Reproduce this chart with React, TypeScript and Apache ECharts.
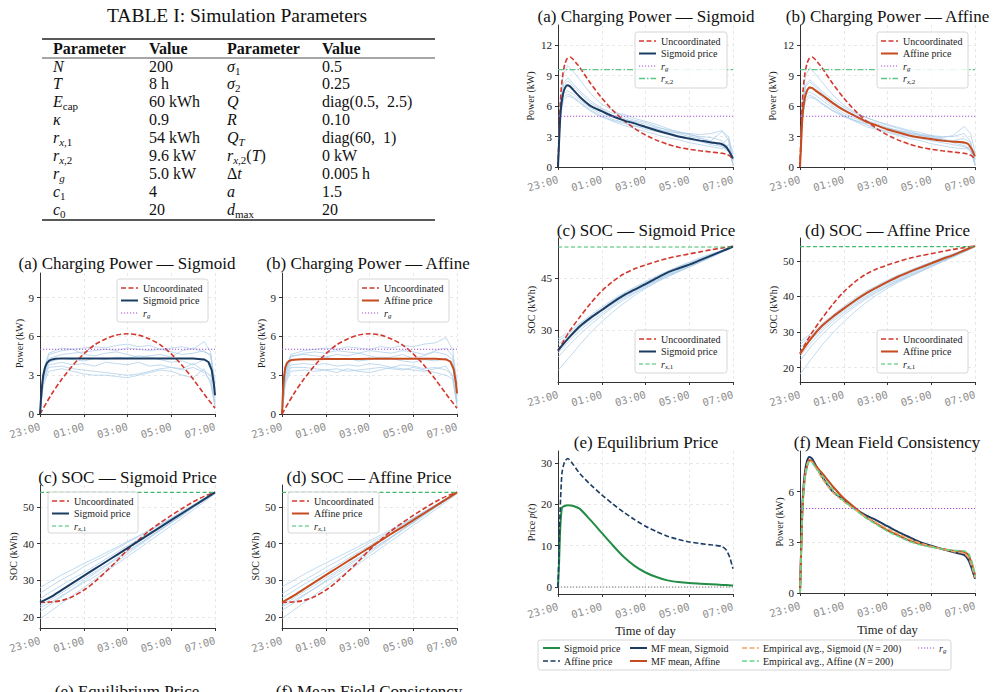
import React, { useEffect, useRef } from 'react';
import * as echarts from 'echarts';

const SERIF = '"Liberation Serif", "Times New Roman", serif';
const MONO = '"DejaVu Sans Mono", monospace';

// ---------------- DATA ----------------
const X_TICKS = ['23:00', '01:00', '03:00', '05:00', '07:00'];

// time grids (hours after 23:00)
const T_P = [0, 0.05, 0.1, 0.15, 0.23, 0.32, 0.42, 0.55, 0.7, 1, 1.5, 2, 2.5, 3, 3.5, 4, 4.5, 5, 5.5, 6, 6.5, 7, 7.5, 7.7, 7.85, 7.95, 8];
const T_H = [0, 0.5, 1, 1.5, 2, 2.5, 3, 3.5, 4, 4.5, 5, 5.5, 6, 6.5, 7, 7.5, 8];
const T_LS = [0, 0.15, 0.4, 1, 1.5, 2, 2.5, 3, 3.5, 4, 4.5, 5, 5.5, 6, 6.5, 7, 7.5, 7.8, 8];
const T_RS = [0, 0.1, 0.25, 0.45, 0.7, 1, 1.5, 2, 2.5, 3, 3.5, 4, 4.5, 5, 5.5, 6, 6.5, 7, 7.5, 7.8, 8];
const T_PRICE = [0, 0.05, 0.1, 0.18, 0.3, 0.45, 0.7, 1, 1.5, 2, 2.5, 3, 3.5, 4, 4.5, 5, 5.5, 6, 6.5, 7, 7.5, 7.7, 7.85, 8];
const T_EDGE = [0, 8];

// reference levels
const R_G = [5.0, 5.0];
const R_X1 = [54, 54];
const R_X2 = [9.6, 9.6];
const ZERO = [0, 0];

// left figure (older version)
const L_UNC_P = [0, 1.45, 2.7, 3.75, 4.65, 5.35, 5.8, 6.1, 6.2, 6.1, 5.8, 5.35, 4.65, 3.75, 2.7, 1.55, 0.45];
const L_SIG_P = [0, 1.3, 2.3, 3.0, 3.6, 3.95, 4.12, 4.22, 4.27, 4.3, 4.3, 4.3, 4.3, 4.3, 4.3, 4.3, 4.3, 4.3, 4.3, 4.3, 4.3, 4.29, 4.22, 4.02, 3.4, 2.3, 1.45];
const L_AFF_P = [0, 1.9, 3.0, 3.6, 3.95, 4.1, 4.17, 4.2, 4.22, 4.23, 4.24, 4.25, 4.25, 4.26, 4.26, 4.27, 4.27, 4.27, 4.27, 4.28, 4.28, 4.28, 4.22, 4.05, 3.45, 2.4, 1.6];
const L_UNC_SOC = [24, 24.1, 24.5, 25.6, 27.3, 29.6, 32.3, 35.2, 38.3, 41.0, 43.5, 45.7, 47.7, 49.6, 51.4, 52.9, 54.0];
const L_SIG_SOC = [24, 25.5, 27.4, 29.3, 31.2, 33.1, 35.0, 36.9, 38.8, 40.7, 42.6, 44.5, 46.4, 48.3, 50.2, 52.1, 54.0];
const L_AFF_SOC = [24, 25.7, 27.6, 29.5, 31.4, 33.3, 35.2, 37.1, 38.9, 40.8, 42.7, 44.5, 46.4, 48.3, 50.2, 52.1, 54.0];

const LA_TRACES = [
  [0, 3.2, 4.6, 4.9, 5.0, 5.1, 5.2, 5.1, 5.3, 5.4, 5.2, 5.3, 5.0, 5.1, 5.2, 5.0, 5.6, 4.8, 2.0],
  [0, 3.0, 4.3, 4.6, 4.7, 4.8, 4.9, 5.0, 4.9, 5.1, 5.0, 4.9, 5.0, 4.8, 4.6, 4.7, 4.9, 4.5, 1.5],
  [0, 2.8, 4.0, 4.3, 4.2, 4.1, 4.3, 4.2, 4.4, 4.3, 4.5, 4.4, 4.2, 4.0, 4.1, 3.8, 4.2, 3.9, 1.2],
  [0, 2.6, 3.8, 4.0, 3.8, 3.9, 3.7, 4.0, 3.9, 3.8, 4.0, 3.7, 3.8, 3.6, 3.5, 3.9, 3.3, 3.0, 0.8],
  [0, 2.5, 3.6, 3.7, 3.5, 3.4, 3.3, 3.2, 3.1, 3.0, 3.1, 3.3, 3.5, 3.6, 3.4, 3.6, 3.2, 2.6, 0.5],
  [0, 2.2, 3.3, 3.5, 3.3, 3.1, 3.0, 3.0, 2.9, 2.8, 3.0, 3.2, 3.4, 3.3, 3.0, 2.8, 3.5, 2.3, 0.7],
  [0, 3.3, 4.7, 5.1, 5.0, 4.6, 4.5, 4.7, 4.8, 4.6, 4.4, 4.5, 4.6, 4.4, 4.9, 5.1, 4.8, 4.6, 2.5],
];
const LB_TRACES = [
  [0, 3.3, 4.6, 4.9, 5.0, 5.1, 5.0, 5.2, 5.1, 5.0, 5.2, 5.1, 5.3, 5.2, 5.4, 5.5, 5.9, 5.0, 2.2],
  [0, 3.0, 4.4, 4.7, 4.8, 4.7, 4.9, 4.8, 4.7, 4.9, 4.8, 4.7, 4.9, 4.8, 4.6, 4.8, 4.6, 4.2, 1.6],
  [0, 2.9, 4.1, 4.3, 4.2, 4.4, 4.2, 4.3, 4.1, 4.2, 4.4, 4.3, 4.1, 4.0, 4.2, 4.1, 4.3, 3.8, 1.2],
  [0, 2.7, 3.8, 3.9, 3.8, 3.9, 3.7, 3.8, 3.7, 3.9, 3.8, 3.6, 3.8, 3.7, 3.5, 3.6, 3.4, 3.0, 0.9],
  [0, 2.5, 3.6, 3.6, 3.5, 3.4, 3.5, 3.3, 3.4, 3.5, 3.6, 3.5, 3.4, 3.6, 3.4, 3.2, 3.0, 2.7, 0.6],
  [0, 2.3, 3.3, 3.4, 3.3, 3.4, 3.2, 3.5, 3.3, 3.2, 3.4, 3.6, 3.5, 3.4, 3.3, 3.5, 3.7, 2.9, 0.8],
  [0, 3.2, 4.5, 4.6, 4.5, 4.4, 4.6, 4.5, 4.7, 4.5, 4.3, 4.4, 4.6, 4.3, 4.5, 4.9, 5.1, 4.5, 2.4],
];
const LC_TRACES = [
  [28, 29.8, 31.5, 33.0, 34.6, 36.0, 37.5, 39.0, 40.6, 42.1, 43.8, 45.2, 46.9, 48.6, 50.4, 52.2, 54],
  [26.5, 28.4, 30.2, 31.8, 33.7, 35.3, 36.8, 38.6, 40.3, 41.9, 43.5, 45.3, 47.0, 48.9, 50.6, 52.4, 54],
  [25, 26.9, 28.7, 30.5, 32.1, 33.9, 35.8, 37.6, 39.4, 41.2, 43.0, 44.8, 46.6, 48.5, 50.3, 52.1, 54],
  [23, 24.8, 26.6, 28.5, 30.4, 32.3, 34.2, 36.1, 38.0, 39.9, 41.8, 43.9, 45.8, 47.9, 49.9, 51.9, 54],
  [21.5, 23.5, 25.6, 27.7, 29.8, 31.9, 33.8, 35.8, 37.8, 39.7, 41.8, 43.8, 45.8, 47.7, 49.8, 51.8, 53.8],
  [19.5, 21.6, 23.8, 25.9, 28.0, 30.2, 32.3, 34.4, 36.5, 38.6, 40.7, 42.8, 44.9, 47.0, 49.2, 51.4, 53.6],
  [22.5, 24.0, 25.9, 27.5, 29.4, 31.0, 33.1, 35.0, 37.2, 39.4, 41.5, 43.6, 45.7, 47.7, 49.9, 51.9, 53.9],
];
const LD_TRACES = [
  [28.2, 29.9, 31.6, 33.2, 34.7, 36.2, 37.7, 39.2, 40.8, 42.3, 43.9, 45.4, 47.0, 48.7, 50.5, 52.3, 54],
  [26.3, 28.2, 30.0, 31.7, 33.5, 35.1, 36.9, 38.5, 40.2, 41.8, 43.5, 45.2, 46.9, 48.8, 50.5, 52.3, 54],
  [25.2, 27.0, 28.9, 30.6, 32.3, 34.0, 35.9, 37.7, 39.5, 41.3, 43.1, 44.9, 46.7, 48.6, 50.4, 52.2, 54],
  [23.2, 25.0, 26.9, 28.7, 30.6, 32.5, 34.4, 36.2, 38.1, 40.0, 41.9, 43.9, 45.9, 47.9, 49.9, 51.9, 54],
  [21.8, 23.7, 25.8, 27.9, 29.9, 32.0, 33.9, 35.9, 37.9, 39.8, 41.8, 43.8, 45.8, 47.8, 49.8, 51.8, 53.8],
  [19.6, 21.7, 23.9, 26.0, 28.2, 30.3, 32.4, 34.5, 36.6, 38.7, 40.8, 42.9, 45.0, 47.1, 49.2, 51.4, 53.6],
  [22.8, 24.3, 26.1, 27.8, 29.6, 31.3, 33.3, 35.2, 37.3, 39.5, 41.6, 43.7, 45.7, 47.8, 49.9, 51.9, 53.9],
];

// right figure (current version)
const UNC_P = [0, 3.5, 6.0, 7.8, 9.3, 10.2, 10.7, 10.85, 10.6, 9.8, 8.2, 6.8, 5.6, 4.6, 3.8, 3.15, 2.65, 2.25, 1.95, 1.75, 1.6, 1.48, 1.35, 1.25, 1.1, 0.9, 0.75];
const MF_SIG = [0, 2.5, 4.8, 6.1, 7.2, 7.8, 8.05, 7.95, 7.6, 6.9, 6.0, 5.5, 5.0, 4.6, 4.3, 3.95, 3.6, 3.3, 3.0, 2.8, 2.6, 2.42, 2.25, 1.95, 1.45, 1.05, 0.84];
const MF_AFF = [0, 2.3, 4.5, 5.8, 6.9, 7.5, 7.85, 7.8, 7.55, 7.1, 6.3, 5.6, 5.05, 4.5, 4.1, 3.7, 3.4, 3.1, 2.9, 2.75, 2.6, 2.5, 2.42, 2.25, 1.75, 1.3, 1.05];
const EMP_SIG = [0, 2.4, 4.6, 5.9, 7.0, 7.6, 7.85, 7.75, 7.45, 6.8, 5.95, 5.4, 4.95, 4.5, 4.15, 3.8, 3.5, 3.2, 2.95, 2.75, 2.6, 2.45, 2.35, 2.1, 1.6, 1.15, 0.9];
const EMP_AFF = [0, 2.3, 4.4, 5.7, 6.8, 7.4, 7.75, 7.7, 7.45, 6.95, 6.1, 5.45, 4.95, 4.45, 4.05, 3.65, 3.35, 3.05, 2.85, 2.72, 2.6, 2.52, 2.48, 2.35, 1.9, 1.35, 1.0];
const UNC_SOC = [24.0, 29.4, 33.8, 37.8, 41.3, 44.0, 46.2, 47.7, 48.8, 49.8, 50.7, 51.4, 52.0, 52.6, 53.2, 53.7, 54.2];
const SIG_SOC = [24.1, 27.8, 31.1, 33.6, 35.8, 38.0, 40.0, 41.7, 43.3, 45.0, 46.6, 47.8, 48.9, 50.2, 51.5, 52.8, 54.1];
const AFF_SOC = [23.9, 28.2, 31.7, 34.3, 36.6, 38.8, 40.8, 42.5, 44.1, 45.6, 46.9, 48.1, 49.3, 50.5, 51.6, 52.9, 54.2];
const SIG_PRICE = [0, 6, 14, 19.2, 19.6, 19.8, 19.6, 18.9, 16.1, 13.1, 10.1, 7.3, 5.1, 3.5, 2.4, 1.6, 1.2, 0.95, 0.8, 0.65, 0.5, 0.45, 0.4, 0.35];
const AFF_PRICE = [0, 9, 19, 27.5, 30.3, 31.1, 29.6, 27.4, 24.7, 22.3, 20.1, 18.1, 16.3, 14.7, 13.4, 12.3, 11.5, 10.9, 10.5, 10.2, 9.8, 8.9, 7.2, 4.4];

const RA_TRACES = [
  [0, 6.5, 9.2, 10.0, 9.4, 8.6, 7.2, 6.2, 5.6, 5.0, 4.6, 4.4, 4.0, 3.6, 3.3, 3.0, 2.8, 2.6, 3.5, 3.0, 1.2],
  [0, 5.8, 8.0, 8.5, 8.0, 7.3, 6.3, 5.7, 5.1, 4.8, 4.4, 4.0, 3.8, 3.4, 3.1, 2.8, 2.6, 2.5, 2.3, 2.8, 0.6],
  [0, 5.5, 7.6, 8.0, 7.6, 6.9, 6.0, 5.4, 5.0, 4.7, 4.5, 4.2, 3.9, 3.7, 3.5, 3.2, 3.0, 2.9, 2.6, 1.8, 0.2],
  [0, 5.2, 7.2, 7.5, 7.2, 6.6, 5.8, 5.2, 4.7, 4.4, 4.1, 3.7, 3.5, 3.3, 3.0, 2.7, 2.5, 2.2, 2.0, 1.5, 0.9],
  [0, 5.0, 6.9, 7.2, 6.9, 6.4, 5.6, 5.0, 4.5, 4.1, 3.8, 3.5, 3.2, 2.9, 2.7, 2.4, 2.2, 2.0, 1.8, 2.2, 1.6],
  [0, 4.8, 6.6, 7.0, 6.8, 6.3, 5.5, 4.9, 4.6, 4.3, 4.0, 3.9, 3.7, 3.5, 3.4, 3.3, 3.2, 3.3, 3.6, 2.6, 0.1],
  [0, 6.0, 8.3, 8.8, 8.2, 7.5, 6.5, 5.8, 5.3, 5.2, 4.8, 4.5, 4.2, 3.8, 3.4, 3.2, 2.9, 2.4, 2.1, 1.6, 0.4],
];
const RB_TRACES = [
  [0, 6.3, 9.0, 9.8, 9.2, 8.4, 7.1, 6.1, 5.4, 4.9, 4.5, 4.1, 3.8, 3.5, 3.2, 3.0, 2.9, 3.1, 4.0, 3.3, 1.4],
  [0, 5.7, 7.9, 8.4, 7.9, 7.3, 6.4, 5.7, 5.1, 4.6, 4.3, 3.9, 3.6, 3.3, 3.1, 2.9, 2.7, 2.6, 2.8, 2.4, 0.5],
  [0, 5.4, 7.5, 7.9, 7.5, 6.9, 6.0, 5.3, 4.8, 4.4, 4.1, 3.8, 3.5, 3.3, 3.1, 2.9, 2.7, 2.5, 2.3, 1.6, 0.2],
  [0, 5.2, 7.1, 7.4, 7.1, 6.6, 5.8, 5.1, 4.6, 4.2, 3.8, 3.5, 3.2, 3.0, 2.8, 2.6, 2.4, 2.2, 2.0, 1.7, 0.8],
  [0, 4.9, 6.8, 7.1, 6.8, 6.3, 5.6, 5.0, 4.5, 4.0, 3.7, 3.4, 3.1, 2.8, 2.6, 2.3, 2.1, 1.9, 1.8, 2.0, 1.5],
  [0, 4.7, 6.5, 6.9, 6.7, 6.2, 5.5, 5.0, 4.6, 4.3, 4.1, 3.8, 3.6, 3.4, 3.2, 3.1, 3.0, 3.0, 3.3, 2.5, 0.1],
  [0, 5.9, 8.1, 8.6, 8.1, 7.5, 6.6, 5.9, 5.3, 4.9, 4.5, 4.2, 3.9, 3.6, 3.4, 3.1, 2.8, 2.4, 2.1, 1.5, 0.3],
];
const RC_TRACES = [
  [27.5, 29.5, 32.0, 34.3, 36.6, 38.8, 40.7, 42.4, 44.0, 45.6, 47.0, 48.4, 49.6, 50.9, 52.0, 53.1, 54.1],
  [26.8, 28.9, 31.6, 33.9, 36.1, 38.4, 40.4, 42.1, 43.7, 45.3, 46.8, 48.2, 49.4, 50.6, 51.8, 52.9, 54.0],
  [25.9, 28.3, 31.2, 33.5, 35.7, 37.9, 39.9, 41.6, 43.0, 44.6, 46.1, 47.6, 48.9, 50.2, 51.5, 52.8, 54.0],
  [24.8, 27.6, 30.6, 33.1, 35.5, 37.5, 39.5, 41.3, 42.9, 44.4, 45.9, 47.3, 48.6, 50.0, 51.3, 52.7, 54.0],
  [23.4, 26.8, 29.9, 32.5, 34.8, 37.0, 39.2, 40.9, 42.6, 44.3, 45.8, 47.0, 48.3, 49.7, 51.1, 52.6, 53.9],
  [22.2, 25.6, 28.8, 31.6, 34.2, 36.6, 38.7, 40.6, 42.3, 44.0, 45.4, 46.8, 48.2, 49.6, 51.0, 52.5, 53.9],
  [18.3, 22.0, 25.8, 29.3, 32.4, 35.2, 37.7, 40.0, 42.0, 43.8, 45.4, 46.9, 48.3, 49.7, 51.2, 52.6, 54.0],
];
const RD_TRACES = [
  [27.3, 29.6, 32.3, 34.8, 37.2, 39.4, 41.4, 43.0, 44.6, 46.0, 47.3, 48.5, 49.7, 50.9, 52.0, 53.1, 54.1],
  [26.5, 29.0, 31.9, 34.4, 36.8, 39.0, 41.0, 42.7, 44.3, 45.8, 47.0, 48.3, 49.5, 50.7, 51.8, 53.0, 54.1],
  [25.6, 28.5, 31.5, 34.0, 36.4, 38.5, 40.5, 42.2, 43.8, 45.2, 46.5, 47.8, 49.1, 50.3, 51.5, 52.8, 54.0],
  [24.5, 27.8, 30.9, 33.6, 36.0, 38.1, 40.0, 41.8, 43.4, 44.8, 46.2, 47.5, 48.8, 50.1, 51.4, 52.7, 54.0],
  [23.2, 27.0, 30.2, 33.0, 35.4, 37.6, 39.6, 41.4, 43.0, 44.5, 45.9, 47.2, 48.6, 49.9, 51.2, 52.6, 53.9],
  [22.0, 25.9, 29.3, 32.2, 34.8, 37.1, 39.2, 41.1, 42.8, 44.3, 45.7, 47.0, 48.4, 49.8, 51.1, 52.5, 53.9],
  [18.2, 22.3, 26.3, 29.8, 32.9, 35.7, 38.2, 40.4, 42.3, 44.0, 45.5, 46.9, 48.3, 49.7, 51.1, 52.5, 54.0],
];

// table
const TABLE_HEAD = ['Parameter', 'Value', 'Parameter', 'Value'];
const TABLE_P1 = ['{i|N}', '{i|T}', '{i|E}{s|cap}', '{i|κ}', '{i|r}{si|x}{s|,1}', '{i|r}{si|x}{s|,2}', '{i|r}{si|g}', '{i|c}{s|1}', '{i|c}{s|0}'];
const TABLE_V1 = ['200', '8 h', '60 kWh', '0.9', '54 kWh', '9.6 kW', '5.0 kW', '4', '20'];
const TABLE_P2 = ['{i|σ}{s|1}', '{i|σ}{s|2}', '{i|Q}', '{i|R}', '{i|Q}{si|T}', '{i|r}{si|x}{s|,2}{n|(}{i|T}{n|)}', '{n|Δ}{i|t}', '{i|a}', '{i|d}{s|max}'];
const TABLE_V2 = ['0.5', '0.25', 'diag(0.5,  2.5)', '0.10', 'diag(60,  1)', '0 kW', '0.005 h', '1.5', '20'];

// ---------------- STYLES / LAYOUT ----------------
const C = {
  unc: '#d3382f', sig: '#1c3d63', aff: '#c64b1e', rg: '#a050d0', rx1: '#3dbb6a', rx2: '#5cc689',
  trace: '#a9cbe8', sigPrice: '#238c47', empSig: '#f4a261', empAff: '#5fd68b', zero: '#777',
};
const DASH = [5, 2.5];
const DOT = [1.2, 1.8];
const DASHDOT = [6, 2, 1.5, 2];

const pairs = (ts: number[], vs: number[]) => ts.map((t, i) => [t, vs[i]]);

function ln(g: number, ts: number[], vs: number[], color: string, width: number, type: any = 'solid', z = 3, opacity = 1, smooth: any = false) {
  return {
    type: 'line', xAxisIndex: g, yAxisIndex: g, data: pairs(ts, vs), symbol: 'none', silent: true,
    smooth, lineStyle: { color, width, type, opacity }, z, emphasis: { disabled: true },
  };
}

const RICH_TABLE = {
  i: { fontStyle: 'italic', fontSize: 16, fontFamily: SERIF, lineHeight: 20, verticalAlign: 'middle' },
  n: { fontSize: 16, fontFamily: SERIF, lineHeight: 20 },
  s: { fontSize: 11, fontFamily: SERIF, lineHeight: 12, verticalAlign: 'bottom' },
  si: { fontSize: 11, fontStyle: 'italic', fontFamily: SERIF, lineHeight: 12, verticalAlign: 'bottom' },
};
const RICH_LEG = {
  i: { fontStyle: 'italic', fontSize: 10, fontFamily: SERIF, lineHeight: 13 },
  s: { fontSize: 7, fontFamily: SERIF, lineHeight: 8, verticalAlign: 'bottom' },
  si: { fontSize: 7, fontStyle: 'italic', fontFamily: SERIF, lineHeight: 8, verticalAlign: 'bottom' },
};

const PANELS = [
  { grid: [40, 273, 175, 141], y: { min: 0, max: 10.9, interval: 3 }, showMin: true, name: 'Power (kW)', gap: 15 },
  { grid: [282, 273, 175, 141], y: { min: 0, max: 10.9, interval: 3 }, showMin: true, name: 'Power (kW)', gap: 15 },
  { grid: [40, 485, 175, 143], y: { min: 17, max: 56, splitNumber: 4 }, showMin: false, name: 'SOC (kWh)', gap: 22 },
  { grid: [282, 485, 175, 143], y: { min: 17, max: 56, splitNumber: 4 }, showMin: false, name: 'SOC (kWh)', gap: 22 },
  { grid: [558, 25, 175, 142], y: { min: 0, max: 14, interval: 3 }, showMin: true, name: 'Power (kW)', gap: 23 },
  { grid: [800, 25, 175, 142], y: { min: 0, max: 14, interval: 3 }, showMin: true, name: 'Power (kW)', gap: 23 },
  { grid: [558, 238, 175, 144], y: { min: 15, max: 56.6, interval: 15 }, showMin: false, name: 'SOC (kWh)', gap: 22 },
  { grid: [800, 238, 175, 144], y: { min: 16, max: 56.4, splitNumber: 4 }, showMin: false, name: 'SOC (kWh)', gap: 22 },
  { grid: [558, 451, 175, 143], y: { min: -1.7, max: 32.9, splitNumber: 3 }, showMin: false, name: 'Price {i|p}({i|t})', gap: 22, xName: 'Time of day' },
  { grid: [800, 451, 175, 142], y: { min: 0, max: 8.4, interval: 3 }, showMin: true, name: 'Power (kW)', gap: 16, xName: 'Time of day' },
];

const TITLES: [string, number, number][] = [
  ['(a) Charging Power — Sigmoid', 127, 263], ['(b) Charging Power — Affine', 368, 263],
  ['(c) SOC — Sigmoid Price', 127.5, 477], ['(d) SOC — Affine Price', 369, 477],
  ['(e) Equilibrium Price', 127, 691], ['(f) Mean Field Consistency', 369, 691],
  ['(a) Charging Power — Sigmoid', 646, 16], ['(b) Charging Power — Affine', 887.5, 16],
  ['(c) SOC — Sigmoid Price', 646, 230], ['(d) SOC — Affine Price', 887.5, 230],
  ['(e) Equilibrium Price', 646, 442], ['(f) Mean Field Consistency', 887, 442],
];

type LegItem = { label: string; color: string; width: number; dash?: number[] };
const LEG_UNC: LegItem = { label: 'Uncoordinated', color: C.unc, width: 1.6, dash: DASH };
const LEG_SIG: LegItem = { label: 'Sigmoid price', color: C.sig, width: 2 };
const LEG_AFF: LegItem = { label: 'Affine price', color: C.aff, width: 2 };
const LEG_RG: LegItem = { label: '{i|r}{si|g}', color: C.rg, width: 1.1, dash: DOT };
const LEG_RX1: LegItem = { label: '{i|r}{si|x}{s|,1}', color: C.rx1, width: 1.2, dash: [4, 2.5] };
const LEG_RX2: LegItem = { label: '{i|r}{si|x}{s|,2}', color: C.rx2, width: 1.4, dash: DASHDOT };

function legendBox(x: number, y: number, w: number, h: number, items: LegItem[]) {
  const els: any[] = [{
    type: 'rect', x, y, z: 100, shape: { x: 0, y: 0, width: w, height: h, r: 2.5 },
    style: { fill: 'rgba(255,255,255,0.85)', stroke: '#cccccc', lineWidth: 0.8 },
  }];
  items.forEach((it, i) => {
    const cy = y + 9 + i * 12.5;
    els.push({ type: 'line', z: 101, shape: { x1: x + 4, y1: cy, x2: x + 21, y2: cy }, style: { stroke: it.color, lineWidth: it.width, lineDash: it.dash } });
    els.push({ type: 'text', z: 101, x: x + 26, y: cy, style: { text: it.label, fontFamily: SERIF, fontSize: 10, fill: '#222', verticalAlign: 'middle', rich: RICH_LEG } });
  });
  return els;
}

function buildOption() {
  const grid = PANELS.map((p) => ({ left: p.grid[0], top: p.grid[1], width: p.grid[2], height: p.grid[3], containLabel: false, outerBoundsMode: 'none' }));
  const gridLine = { show: true, showMinLine: false, showMaxLine: false, lineStyle: { color: '#e2e2e2', type: [3, 3], width: 0.8 } };
  const xAxis = PANELS.map((p, i) => ({
    gridIndex: i, type: 'value', min: 0, max: 8, interval: 2,
    axisLine: { show: true, onZero: false, lineStyle: { color: '#333', width: 1 } },
    axisTick: { show: true, length: 3, lineStyle: { color: '#333' } },
    axisLabel: { rotate: 16, fontFamily: MONO, fontSize: 10.5, color: '#8e8e8e', margin: 12, formatter: (v: number) => X_TICKS[Math.round(v / 2)] ?? '' },
    splitLine: { show: true, lineStyle: { color: '#e2e2e2', type: [3, 3], width: 0.8 } },
    name: p.xName || '', nameLocation: 'middle', nameGap: 30,
    nameTextStyle: { fontFamily: SERIF, fontSize: 12.5, color: '#222' },
  }));
  const yAxis = PANELS.map((p, i) => ({
    gridIndex: i, type: 'value', ...p.y,
    axisLine: { show: true, lineStyle: { color: '#333', width: 1 } },
    axisTick: { show: true, length: 3, lineStyle: { color: '#333' } },
    axisLabel: { fontFamily: SERIF, fontSize: 11, color: '#222', margin: 6, showMinLabel: p.showMin, showMaxLabel: false },
    splitLine: gridLine,
    name: p.name, nameLocation: 'middle', nameGap: p.gap,
    nameTextStyle: { fontFamily: SERIF, fontSize: 10, color: '#222', rich: { i: { fontStyle: 'italic', fontFamily: SERIF, fontSize: 10 } } },
  }));

  const series: any[] = [];
  const traces = (g: number, ts: number[], arr: number[][]) => arr.forEach((v) => series.push(ln(g, ts, v, C.trace, 0.9, 'solid', 1, 0.8)));

  // Left (a)
  traces(0, T_LS, LA_TRACES);
  series.push(ln(0, T_H, L_UNC_P, C.unc, 1.6, DASH, 3, 1, 0.3));
  series.push(ln(0, T_P, L_SIG_P, C.sig, 2, 'solid', 4));
  series.push(ln(0, T_EDGE, R_G, C.rg, 1.1, DOT, 5));
  // Left (b)
  traces(1, T_LS, LB_TRACES);
  series.push(ln(1, T_H, L_UNC_P, C.unc, 1.6, DASH, 3, 1, 0.3));
  series.push(ln(1, T_P, L_AFF_P, C.aff, 2, 'solid', 4));
  series.push(ln(1, T_EDGE, R_G, C.rg, 1.1, DOT, 5));
  // Left (c)
  traces(2, T_H, LC_TRACES);
  series.push(ln(2, T_H, L_UNC_SOC, C.unc, 1.6, DASH, 3, 1, 0.3));
  series.push(ln(2, T_H, L_SIG_SOC, C.sig, 2, 'solid', 4, 1, 0.3));
  series.push(ln(2, T_EDGE, R_X1, C.rx1, 1.2, [4, 2.5], 5));
  // Left (d)
  traces(3, T_H, LD_TRACES);
  series.push(ln(3, T_H, L_UNC_SOC, C.unc, 1.6, DASH, 3, 1, 0.3));
  series.push(ln(3, T_H, L_AFF_SOC, C.aff, 2, 'solid', 4, 1, 0.3));
  series.push(ln(3, T_EDGE, R_X1, C.rx1, 1.2, [4, 2.5], 5));
  // Right (a)
  traces(4, T_RS, RA_TRACES);
  series.push(ln(4, T_P, UNC_P, C.unc, 1.6, DASH, 3, 1, 0.2));
  series.push(ln(4, T_P, MF_SIG, C.sig, 2, 'solid', 4, 1, 0.2));
  series.push(ln(4, T_EDGE, R_G, C.rg, 1.1, DOT, 5));
  series.push(ln(4, T_EDGE, R_X2, C.rx2, 1.4, DASHDOT, 5));
  // Right (b)
  traces(5, T_RS, RB_TRACES);
  series.push(ln(5, T_P, UNC_P, C.unc, 1.6, DASH, 3, 1, 0.2));
  series.push(ln(5, T_P, MF_AFF, C.aff, 2, 'solid', 4, 1, 0.2));
  series.push(ln(5, T_EDGE, R_G, C.rg, 1.1, DOT, 5));
  series.push(ln(5, T_EDGE, R_X2, C.rx2, 1.4, DASHDOT, 5));
  // Right (c)
  traces(6, T_H, RC_TRACES);
  series.push(ln(6, T_H, UNC_SOC, C.unc, 1.6, DASH, 3, 1, 0.3));
  series.push(ln(6, T_H, SIG_SOC, C.sig, 2, 'solid', 4, 1, 0.3));
  series.push(ln(6, T_EDGE, R_X1, C.rx1, 1.2, [4, 2.5], 5));
  // Right (d)
  traces(7, T_H, RD_TRACES);
  series.push(ln(7, T_H, UNC_SOC, C.unc, 1.6, DASH, 3, 1, 0.3));
  series.push(ln(7, T_H, AFF_SOC, C.aff, 2, 'solid', 4, 1, 0.3));
  series.push(ln(7, T_EDGE, R_X1, C.rx1, 1.2, [4, 2.5], 5));
  // Right (e)
  series.push(ln(8, T_EDGE, ZERO, C.zero, 1, DOT, 2));
  series.push(ln(8, T_PRICE, SIG_PRICE, C.sigPrice, 2, 'solid', 4, 1, 0.2));
  series.push(ln(8, T_PRICE, AFF_PRICE, C.sig, 1.6, DASH, 4, 1, 0.2));
  // Right (f)
  series.push(ln(9, T_P, MF_SIG, C.sig, 2, 'solid', 3, 1, 0.2));
  series.push(ln(9, T_P, MF_AFF, C.aff, 2, 'solid', 3, 1, 0.2));
  series.push(ln(9, T_P, EMP_SIG, C.empSig, 1.6, DASH, 4, 1, 0.2));
  series.push(ln(9, T_P, EMP_AFF, C.empAff, 1.6, DASH, 4, 1, 0.2));
  series.push(ln(9, T_EDGE, R_G, C.rg, 1.1, DOT, 5));

  // graphics
  const g: any[] = [];
  TITLES.forEach(([t, x, y]) => g.push({ type: 'text', x, y, z: 50, style: { text: t, fontFamily: SERIF, fontSize: 17, fill: '#111', align: 'center', verticalAlign: 'middle' } }));

  // table
  g.push({ type: 'text', x: 237, y: 15, style: { text: 'TABLE I: Simulation Parameters', fontFamily: SERIF, fontSize: 19.5, fill: '#111', align: 'center', verticalAlign: 'middle' } });
  g.push({ type: 'line', shape: { x1: 42, y1: 39, x2: 435, y2: 39 }, style: { stroke: '#222', lineWidth: 1.3 } });
  g.push({ type: 'line', shape: { x1: 42, y1: 58, x2: 435, y2: 58 }, style: { stroke: '#222', lineWidth: 0.8 } });
  g.push({ type: 'line', shape: { x1: 42, y1: 220, x2: 435, y2: 220 }, style: { stroke: '#222', lineWidth: 1.3 } });
  const COLX = [53, 149, 227, 322];
  TABLE_HEAD.forEach((h, i) => g.push({ type: 'text', x: COLX[i], y: 48.5, style: { text: h, fontFamily: SERIF, fontSize: 16, fontWeight: 'bold', fill: '#111', verticalAlign: 'middle' } }));
  const cols = [TABLE_P1, TABLE_V1, TABLE_P2, TABLE_V2];
  cols.forEach((col, ci) => col.forEach((txt, ri) => g.push({
    type: 'text', x: COLX[ci], y: 66 + ri * 17.9,
    style: { text: txt, fontFamily: SERIF, fontSize: 16, fill: '#111', verticalAlign: 'middle', rich: RICH_TABLE },
  })));

  // panel legends
  g.push(...legendBox(117, 279, 91, 43, [LEG_UNC, LEG_SIG, LEG_RG]));
  g.push(...legendBox(358, 279, 91, 43, [LEG_UNC, LEG_AFF, LEG_RG]));
  g.push(...legendBox(48, 492, 90, 41, [LEG_UNC, LEG_SIG, LEG_RX1]));
  g.push(...legendBox(288, 492, 91, 41, [LEG_UNC, LEG_AFF, LEG_RX1]));
  g.push(...legendBox(635, 32, 92, 56, [LEG_UNC, LEG_SIG, LEG_RG, LEG_RX2]));
  g.push(...legendBox(877, 32, 91, 56, [LEG_UNC, LEG_AFF, LEG_RG, LEG_RX2]));
  g.push(...legendBox(635, 330, 92, 43, [LEG_UNC, LEG_SIG, LEG_RX1]));
  g.push(...legendBox(877, 330, 91, 43, [LEG_UNC, LEG_AFF, LEG_RX1]));

  // bottom shared legend
  g.push({ type: 'rect', x: 538, y: 640, z: 100, shape: { x: 0, y: 0, width: 413, height: 30, r: 2.5 }, style: { fill: '#fff', stroke: '#cccccc', lineWidth: 0.8 } });
  const BL: [number, number, LegItem][] = [
    [543, 0, { label: 'Sigmoid price', color: C.sigPrice, width: 2 }],
    [543, 1, { label: 'Affine price', color: C.sig, width: 1.6, dash: DASH }],
    [630, 0, { label: 'MF mean, Sigmoid', color: C.sig, width: 2 }],
    [630, 1, { label: 'MF mean, Affine', color: C.aff, width: 2 }],
    [742, 0, { label: 'Empirical avg., Sigmoid ({i|N}\u2009=\u2009200)', color: C.empSig, width: 1.6, dash: DASH }],
    [742, 1, { label: 'Empirical avg., Affine ({i|N}\u2009=\u2009200)', color: C.empAff, width: 1.6, dash: DASH }],
    [918, 0, LEG_RG],
  ];
  BL.forEach(([x, r, it]) => {
    const cy = 648 + r * 13;
    g.push({ type: 'line', z: 101, shape: { x1: x, y1: cy, x2: x + 17, y2: cy }, style: { stroke: it.color, lineWidth: it.width, lineDash: it.dash } });
    g.push({ type: 'text', z: 101, x: x + 21, y: cy, style: { text: it.label, fontFamily: SERIF, fontSize: 10, fill: '#222', verticalAlign: 'middle', rich: RICH_LEG } });
  });

  return { animation: false, backgroundColor: '#ffffff', grid, xAxis, yAxis, series, graphic: { elements: g } };
}

export default function App() {
  const ref = useRef<HTMLDivElement>(null);
  useEffect(() => {
    if (!ref.current) return;
    const chart = echarts.init(ref.current, undefined, { renderer: 'svg' });
    chart.setOption(buildOption() as any);
    return () => chart.dispose();
  }, []);
  return <div ref={ref} style={{ position: 'fixed', left: 0, top: 0, width: 995, height: 692, background: '#fff' }} />;
}
